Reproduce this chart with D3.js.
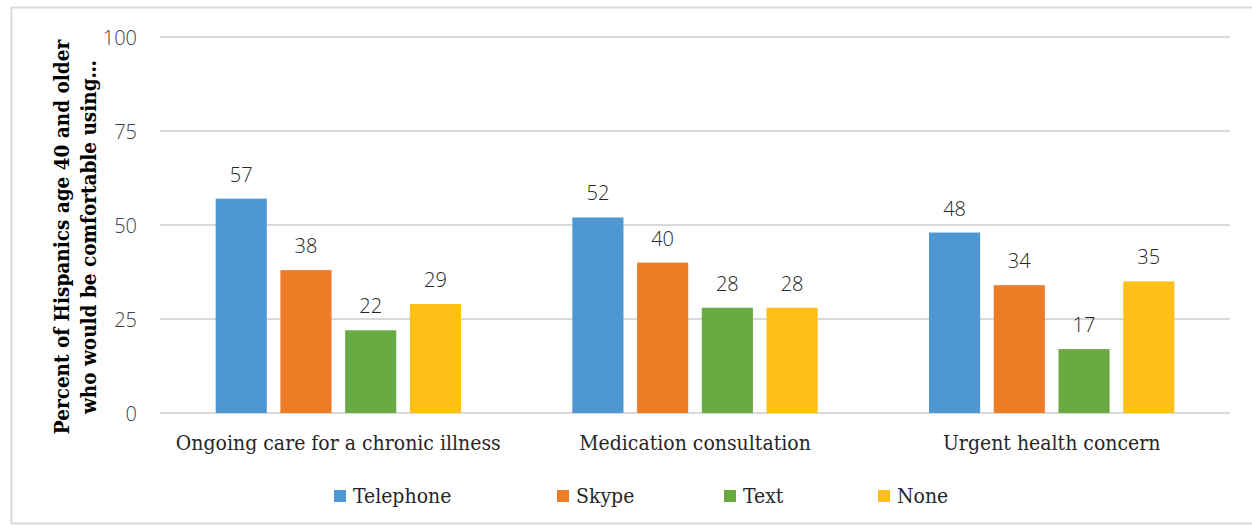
<!DOCTYPE html>
<html>
<head>
<meta charset="utf-8">
<script src="https://cdn.jsdelivr.net/npm/d3@7"></script>
<style>
  html, body { margin: 0; padding: 0; background: #fff; }
  svg { display: block; }
</style>
</head>
<body>
<svg id="chart" width="1252" height="525"></svg>
<script>
// Survey categories and the share of respondents comfortable with each channel
const categories = ["Ongoing care for a chronic illness", "Medication consultation", "Urgent health concern"];
const seriesNames = ["Telephone", "Skype", "Text", "None"];
const telephone = [57, 52, 48];
const skype = [38, 40, 34];
const text = [22, 28, 17];
const none = [29, 28, 35];
const yTicks = [0, 25, 50, 75, 100];
const colors = ["#4f97d2", "#ee7b26", "#6aaa43", "#fdbf18"];

const seriesValues = [telephone, skype, text, none];

const svg = d3.select("#chart");
const slab = "'DejaVu Serif Condensed', 'DejaVu Serif', serif";
const sans = "'Open Sans', 'Liberation Sans', sans-serif";

// outer frame
svg.append("rect")
  .attr("x", 11.5).attr("y", 7.5)
  .attr("width", 1260).attr("height", 516)
  .attr("fill", "none").attr("stroke", "#d9d9d9").attr("stroke-width", 2);

const plot = { left: 160, right: 1230, top: 37, bottom: 413 };

const y = d3.scaleLinear().domain([0, 100]).range([plot.bottom, plot.top]);
const x0 = d3.scaleBand().domain(categories).range([plot.left, plot.right]).paddingInner(0).paddingOuter(0);
const x1 = d3.scaleBand().domain(seriesNames).range([0, x0.bandwidth()]).paddingInner(0.21).paddingOuter(0.86);

// gridlines
svg.append("g").selectAll("line").data(yTicks).join("line")
  .attr("x1", plot.left).attr("x2", plot.right)
  .attr("y1", d => y(d)).attr("y2", d => y(d))
  .attr("stroke", "#d9d9d9").attr("stroke-width", 2);

// y axis labels
const yAxis = d3.axisLeft(y).tickValues(yTicks).tickSize(0).tickPadding(0);
const gy = svg.append("g").attr("transform", `translate(137,0)`).call(yAxis);
gy.select(".domain").remove();
gy.selectAll("text")
  .attr("font-family", sans).attr("font-size", 20).attr("font-weight", 300)
  .attr("fill", "#404040").attr("dy", "0.35em");

// bars
const rows = categories.map((c, i) => ({ cat: c, vals: seriesNames.map((s, j) => ({ s, j, v: seriesValues[j][i] })) }));
const groups = svg.append("g").selectAll("g").data(rows).join("g")
  .attr("transform", d => `translate(${x0(d.cat)},0)`);

groups.selectAll("rect").data(d => d.vals).join("rect")
  .attr("x", d => x1(d.s))
  .attr("y", d => y(d.v))
  .attr("width", x1.bandwidth())
  .attr("height", d => y(0) - y(d.v))
  .attr("fill", d => colors[d.j]);

// value labels
groups.selectAll("text.val").data(d => d.vals).join("text")
  .attr("class", "val")
  .attr("x", d => x1(d.s) + x1.bandwidth() / 2)
  .attr("y", d => y(d.v) - 17)
  .attr("text-anchor", "middle")
  .attr("font-family", sans).attr("font-size", 20).attr("font-weight", 300)
  .attr("fill", "#262626")
  .text(d => d.v);

// category labels
const xAxis = d3.axisBottom(x0).tickSize(0).tickPadding(0);
const gx = svg.append("g").attr("transform", `translate(0,${plot.bottom})`).call(xAxis);
gx.select(".domain").remove();
gx.selectAll("text")
  .attr("y", 37).attr("dy", 0)
  .attr("font-family", slab).attr("font-size", 21)
  .attr("fill", "#262626");

// y-axis title
const title = svg.append("text")
  .attr("transform", "translate(0,237) rotate(-90)")
  .attr("text-anchor", "middle")
  .attr("font-family", slab).attr("font-size", 20.5).attr("font-weight", "bold")
  .attr("fill", "#000");
title.append("tspan").attr("x", 0).attr("y", 69).text("Percent of Hispanics age 40 and older");
title.append("tspan").attr("x", 0).attr("y", 96).text("who would be comfortable using…");

// legend
const legendX = [334, 557, 724, 878];
const legend = svg.append("g").selectAll("g").data(seriesNames).join("g")
  .attr("transform", (d, i) => `translate(${legendX[i]},490)`);
legend.append("rect").attr("width", 12).attr("height", 12).attr("fill", (d, i) => colors[i]);
legend.append("text")
  .attr("x", 19).attr("y", 13)
  .attr("font-family", slab).attr("font-size", 21)
  .attr("fill", "#262626")
  .text(d => d);
</script>
</body>
</html>
